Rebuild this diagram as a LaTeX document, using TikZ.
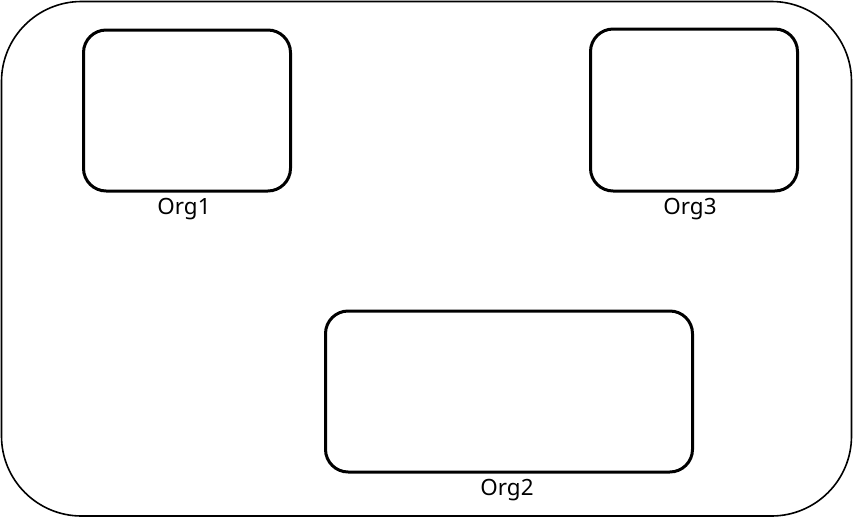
\documentclass[tikz,border=0pt]{standalone}
\usepackage{fontspec}
\setmainfont{Noto Sans}
\begin{document}
\begin{tikzpicture}[x=0.75pt,y=-0.75pt,
  outerbox/.style={draw=black,line width=1.2pt,rounded corners=60pt},
  orgbox/.style={draw=black,line width=2.25pt,rounded corners=17pt},
  orglabel/.style={font=\fontsize{16.8}{19}\selectfont,inner sep=0pt,anchor=center}]
\useasboundingbox (0,0) rectangle (853,518);
\draw[outerbox] (1.5,1.5) rectangle (851.5,516);
\node[orgbox,minimum width=207*0.75pt,minimum height=161*0.75pt,anchor=north west] (org1) at (82,28.5) {};
\node[orgbox,minimum width=207*0.75pt,minimum height=162*0.75pt,anchor=north west] (org3) at (589,27.5) {};
\node[orgbox,minimum width=367*0.75pt,minimum height=161*0.75pt,anchor=north west] (org2) at (324,309.5) {};
\node[orglabel] (l1) at (184,209) {Org1};
\node[orglabel] (l3) at (690,209) {Org3};
\node[orglabel] (l2) at (507,490) {Org2};
\end{tikzpicture}
\end{document}
